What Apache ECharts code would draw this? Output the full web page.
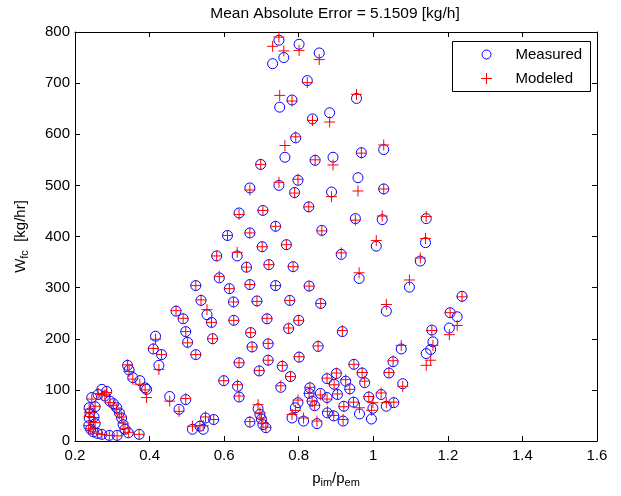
<!DOCTYPE html>
<html>
<head>
<meta charset="utf-8">
<script src="https://cdn.jsdelivr.net/npm/echarts@6/dist/echarts.min.js"></script>
<style>
  html, body { margin: 0; padding: 0; background: #fff; }
  #chart { width: 621px; height: 496px; }
</style>
</head>
<body>
<div id="chart"></div>
<script>
// Pressure ratio p_im/p_em for each operating point (shared by both series)
const pressureRatio = [
  0.747, 0.730, 0.760, 0.801, 0.855, 0.823, 0.749, 0.782, 0.837, 0.883,
  0.955, 0.792, 0.763, 0.844, 0.892, 0.968, 1.028, 0.698, 0.669, 0.640,
  0.704, 0.669, 0.609, 0.702, 0.580, 0.635, 0.660, 0.587, 0.614, 0.669,
  0.524, 0.538, 0.625, 0.688, 0.471, 0.554, 0.959, 0.747, 0.798, 0.789,
  0.888, 1.028, 0.827, 0.952, 1.024, 1.142, 0.738, 0.862, 1.008, 1.140,
  0.767, 0.914, 1.126, 0.720, 0.785, 0.962, 1.097, 0.738, 0.828, 0.776,
  0.859, 1.035, 1.238, 1.206, 1.225, 1.204, 1.157, 1.160, 1.154, 1.142,
  1.075, 1.079, 0.626, 0.715, 0.800, 0.773, 0.671, 0.917, 0.675, 0.718,
  0.852, 0.640, 0.718, 0.694, 0.756, 0.801, 0.778, 0.752, 0.636, 0.640,
  0.948, 0.901, 0.876, 0.970, 0.977, 1.053, 1.042, 0.926, 0.937, 0.895,
  0.830, 0.828, 0.836, 0.858, 0.843, 0.798, 0.791, 0.782, 0.813, 0.849,
  0.876, 0.877, 0.894, 0.904, 0.921, 0.919, 0.947, 0.963, 0.988, 0.999,
  0.995, 1.021, 1.035, 1.055, 0.691, 0.696, 0.700, 0.704, 0.712, 0.669,
  0.566, 0.490, 0.497, 0.502, 0.569, 0.416, 0.410, 0.432, 0.425, 0.524,
  0.341, 0.345, 0.355, 0.374, 0.388, 0.392, 0.599, 0.454, 0.497, 0.479,
  0.572, 0.550, 0.544, 0.535, 0.515, 0.372,
  0.272, 0.245, 0.280, 0.294, 0.303, 0.312, 0.319, 0.325, 0.329, 0.334,
  0.343, 0.238, 0.240, 0.238, 0.237, 0.242, 0.249, 0.260, 0.272, 0.292,
  0.313, 0.254, 0.251, 0.254, 0.262, 0.285
];

// Measured fuel flow W_fc [kg/hr]
const measuredFuel = [
  784, 738, 750, 776, 759, 705, 653, 667, 630, 642,
  670, 593, 555, 549, 555, 564, 570, 541, 495, 446,
  451, 407, 402, 380, 362, 362, 340, 319, 298, 306,
  304, 275, 272, 274, 254, 247, 515, 500, 510, 486,
  487, 493, 458, 435, 433, 435, 420, 412, 381, 388,
  384, 365, 352, 345, 341, 318, 301, 304, 303, 275,
  269, 254, 283, 251, 243, 221, 217, 194, 179, 171,
  180, 112, 236, 239, 236, 220, 212, 214, 184, 190,
  185, 153, 158, 137, 146, 164, 126, 105, 107, 86,
  150, 132, 122, 133, 114, 155, 133, 117, 102, 111,
  104, 93, 78, 93, 69, 75, 65, 45, 39, 34,
  85, 55, 49, 91, 68, 39, 76, 53, 86, 64,
  43, 91, 68, 75, 63, 52, 43, 32, 26, 37,
  232, 239, 214, 193, 200, 205, 180, 169, 148, 169,
  148, 139, 124, 118, 104, 101, 118, 87, 81, 62,
  42, 45, 23, 29, 23, 13,
  101, 85, 88, 78, 73, 65, 55, 45, 32, 23,
  16, 65, 55, 45, 30, 23, 18, 15, 13, 11,
  11, 67, 47, 34, 91, 97
];

// Modeled fuel flow W_fc [kg/hr]
const modeledFuel = [
  790, 772, 763, 764, 746, 701, 676, 665, 627, 624,
  678, 595, 578, 550, 540, 563, 579, 541, 491, 443,
  451, 407, 402, 380, 362, 369, 340, 322, 298, 306,
  304, 276, 272, 273, 255, 257, 489, 506, 512, 485,
  478, 493, 458, 432, 440, 439, 420, 411, 392, 396,
  384, 368, 358, 345, 341, 329, 315, 304, 303, 275,
  269, 267, 282, 251, 226, 208, 216, 187, 158, 148,
  187, 107, 236, 240, 236, 221, 212, 216, 184, 191,
  186, 153, 158, 138, 148, 165, 126, 108, 110, 88,
  150, 133, 123, 134, 117, 157, 134, 120, 101, 110,
  105, 93, 78, 90, 70, 80, 60, 52, 45, 39,
  82, 58, 50, 92, 67, 42, 76, 65, 87, 75,
  60, 94, 75, 76, 71, 55, 45, 35, 27, 38,
  232, 240, 214, 192, 200, 199, 181, 169, 140, 169,
  149, 136, 121, 111, 100, 85, 118, 78, 83, 58,
  42, 47, 30, 30, 29, 13,
  91, 82, 90, 75, 70, 62, 53, 47, 35, 24,
  17, 62, 56, 48, 30, 24, 18, 15, 13, 11,
  10, 68, 46, 36, 93, 95
];

// Axis ticks
const xTicks = { min: 0.2, max: 1.6, step: 0.2 };
const yTicks = { min: 0, max: 800, step: 100 };

const measuredPoints = pressureRatio.map((x, i) => [x, measuredFuel[i]]);
const modeledPoints = pressureRatio.map((x, i) => [x, modeledFuel[i]]);

const FONT = 'Liberation Sans, Arial, Helvetica, sans-serif';
const PLUS = 'path://M0,5L10,5M5,0L5,10';

const chart = echarts.init(document.getElementById('chart'), null, { renderer: 'canvas' });

const frameAxis = {
  axisLine: { show: true, onZero: false, lineStyle: { color: '#000', width: 1 } },
  axisTick: { show: true, inside: true, length: 5, lineStyle: { color: '#000' } },
  splitLine: { show: false }
};

// Legend box in the upper right corner of the axes
const legendBox = {
  type: 'group', left: 452, top: 41,
  children: [
    { type: 'rect', shape: { x: 0, y: 0, width: 138, height: 50 },
      style: { fill: '#fff', stroke: '#000', lineWidth: 1 } },
    { type: 'circle', shape: { cx: 34, cy: 13, r: 4.5 },
      style: { fill: 'none', stroke: '#0000ff', lineWidth: 1 } },
    { type: 'polyline', shape: { points: [[28.5, 37], [39.5, 37]] },
      style: { stroke: '#ff0000', lineWidth: 1 } },
    { type: 'polyline', shape: { points: [[34, 31.5], [34, 42.5]] },
      style: { stroke: '#ff0000', lineWidth: 1 } },
    { type: 'text', x: 63, y: 13,
      style: { text: 'Measured', font: '15px ' + FONT, fill: '#000', verticalAlign: 'middle' } },
    { type: 'text', x: 63, y: 37,
      style: { text: 'Modeled', font: '15px ' + FONT, fill: '#000', verticalAlign: 'middle' } }
  ]
};

chart.setOption({
  animation: false,
  backgroundColor: '#fff',
  grid: { left: 75, right: 24, top: 32, bottom: 55, containLabel: false },
  graphic: [
    {
      type: 'text', x: 335, y: 6,
      style: { text: 'Mean Absolute Error = 5.1509 [kg/h]', font: '15.5px ' + FONT,
               fill: '#000', align: 'center' }
    },
    legendBox
  ],
  xAxis: [
    Object.assign({
      type: 'value', position: 'bottom',
      min: xTicks.min, max: xTicks.max, interval: xTicks.step,
      name: '{n|p}{s|im}{n|/p}{s|em}',
      nameLocation: 'middle', nameGap: 28,
      nameTextStyle: {
        color: '#000',
        rich: {
          n: { fontFamily: FONT, fontSize: 15, color: '#000' },
          s: { fontFamily: FONT, fontSize: 11, color: '#000', padding: [8, 0, 0, 0] }
        }
      },
      axisLabel: { color: '#000', fontFamily: FONT, fontSize: 15, margin: 7 }
    }, frameAxis),
    Object.assign({
      type: 'value', position: 'top',
      min: xTicks.min, max: xTicks.max, interval: xTicks.step,
      axisLabel: { show: false }
    }, frameAxis)
  ],
  yAxis: [
    Object.assign({
      type: 'value', position: 'left',
      min: yTicks.min, max: yTicks.max, interval: yTicks.step,
      name: '{n|W}{s|fc}{n|  [kg/hr]}',
      nameLocation: 'middle', nameGap: 45, nameRotate: 90,
      nameTextStyle: {
        color: '#000',
        rich: {
          n: { fontFamily: FONT, fontSize: 15, color: '#000' },
          s: { fontFamily: FONT, fontSize: 11, color: '#000', padding: [8, 0, 0, 0] }
        }
      },
      axisLabel: { color: '#000', fontFamily: FONT, fontSize: 15, margin: 5 }
    }, frameAxis),
    Object.assign({
      type: 'value', position: 'right',
      min: yTicks.min, max: yTicks.max, interval: yTicks.step,
      axisLabel: { show: false }
    }, frameAxis)
  ],
  series: [
    {
      name: 'Measured', type: 'scatter',
      xAxisIndex: 0, yAxisIndex: 0,
      symbol: 'circle', symbolSize: 10,
      itemStyle: { color: 'rgba(0,0,0,0)', borderColor: '#0000ff', borderWidth: 1, opacity: 1 },
      emphasis: { disabled: true },
      data: measuredPoints
    },
    {
      name: 'Modeled', type: 'scatter',
      xAxisIndex: 0, yAxisIndex: 0,
      symbol: PLUS, symbolSize: 11,
      itemStyle: { color: 'rgba(0,0,0,0)', borderColor: '#ff0000', borderWidth: 1, opacity: 1 },
      emphasis: { disabled: true },
      data: modeledPoints
    }
  ]
});
</script>
</body>
</html>
